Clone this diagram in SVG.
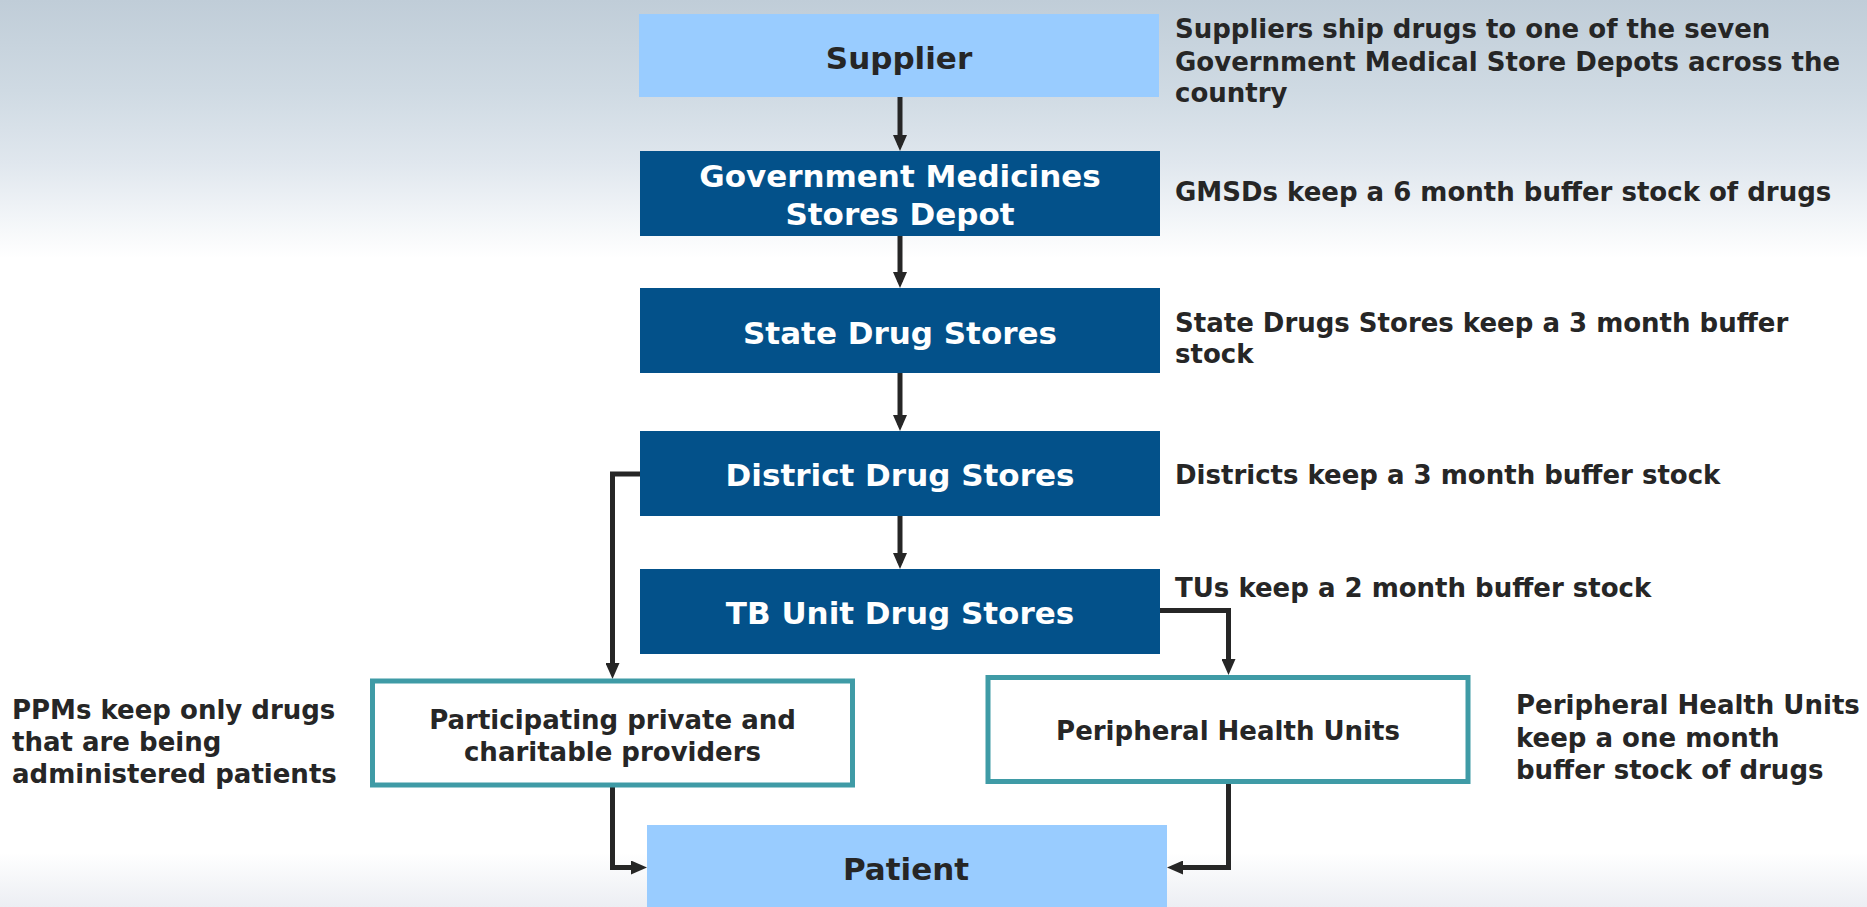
<svg xmlns="http://www.w3.org/2000/svg" width="1867" height="907" viewBox="0 0 1867 907">
  <defs>
    <linearGradient id="bg" x1="0" y1="0" x2="0" y2="1">
      <stop offset="0" stop-color="#c0cdd8"/>
      <stop offset="0.1" stop-color="#cfdae3"/>
      <stop offset="0.18" stop-color="#e0e7ee"/>
      <stop offset="0.24" stop-color="#f2f5f8"/>
      <stop offset="0.285" stop-color="#ffffff"/>
      <stop offset="0.94" stop-color="#ffffff"/>
      <stop offset="1" stop-color="#eceef3"/>
    </linearGradient>
    <marker id="arrow" viewBox="0 0 16 14" refX="10" refY="7" markerWidth="16" markerHeight="14" markerUnits="userSpaceOnUse" orient="auto">
      <path d="M0,0 L16,7 L0,14 z" fill="#262626"/>
    </marker>
    <style>
      .dark { fill: #03518a; }
      .light { fill: #99ccff; }
      .outline { fill: #ffffff; stroke: #3f9ba6; stroke-width: 5; }
      .lbl { font-family: "DejaVu Sans", Verdana, sans-serif; font-weight: bold; font-size: 31px; text-anchor: middle; }
      .w { fill: #ffffff; }
      .k { fill: #262626; }
      .sm { font-family: "DejaVu Sans", Verdana, sans-serif; font-weight: bold; font-size: 26px; fill: #262626; }
      .mid { text-anchor: middle; }
      .conn { fill: none; stroke: #262626; stroke-width: 5; marker-end: url(#arrow); }
    </style>
  </defs>

  <rect x="0" y="0" width="1867" height="907" fill="url(#bg)"/>

  <g id="connectors">
    <path class="conn" d="M900,97 V145"/>
    <path class="conn" d="M900,236 V282"/>
    <path class="conn" d="M900,373 V425"/>
    <path class="conn" d="M900,516 V563"/>
    <path class="conn" d="M640,474 H612.5 V673"/>
    <path class="conn" d="M1160,610.5 H1228.5 V669"/>
    <path class="conn" d="M612.5,787 V867.5 H641"/>
    <path class="conn" d="M1228.5,783 V867.5 H1173"/>
  </g>

  <g id="supplier">
    <rect class="light" x="639" y="14" width="520" height="83"/>
    <text class="lbl k" x="899" y="69">Supplier</text>
  </g>
  <g id="gmsd">
    <rect class="dark" x="640" y="151" width="520" height="85"/>
    <text class="lbl w" x="900" y="187">Government Medicines</text>
    <text class="lbl w" x="900" y="225">Stores Depot</text>
  </g>
  <g id="state">
    <rect class="dark" x="640" y="288" width="520" height="85"/>
    <text class="lbl w" x="900" y="344">State Drug Stores</text>
  </g>
  <g id="district">
    <rect class="dark" x="640" y="431" width="520" height="85"/>
    <text class="lbl w" x="900" y="486">District Drug Stores</text>
  </g>
  <g id="tbunit">
    <rect class="dark" x="640" y="569" width="520" height="85"/>
    <text class="lbl w" x="900" y="624">TB Unit Drug Stores</text>
  </g>
  <g id="ppm">
    <rect class="outline" x="372.5" y="681" width="480" height="104"/>
    <text class="sm mid" x="612.5" y="729">Participating private and</text>
    <text class="sm mid" x="612.5" y="761">charitable providers</text>
  </g>
  <g id="phu">
    <rect class="outline" x="988" y="677.5" width="480" height="104"/>
    <text class="sm mid" x="1228" y="740">Peripheral Health Units</text>
  </g>
  <g id="patient">
    <rect class="light" x="647" y="825" width="520" height="90"/>
    <text class="lbl k" x="906" y="880">Patient</text>
  </g>

  <g id="notes">
    <text class="sm" x="1175" y="38">Suppliers ship drugs to one of the seven</text>
    <text class="sm" x="1175" y="71">Government Medical Store Depots across the</text>
    <text class="sm" x="1175" y="102">country</text>
    <text class="sm" x="1175" y="201">GMSDs keep a 6 month buffer stock of drugs</text>
    <text class="sm" x="1175" y="332">State Drugs Stores keep a 3 month buffer</text>
    <text class="sm" x="1175" y="363">stock</text>
    <text class="sm" x="1175" y="484">Districts keep a 3 month buffer stock</text>
    <text class="sm" x="1175" y="597">TUs keep a 2 month buffer stock</text>
    <text class="sm" x="1516" y="714">Peripheral Health Units</text>
    <text class="sm" x="1516" y="747">keep a one month</text>
    <text class="sm" x="1516" y="779">buffer stock of drugs</text>
    <text class="sm" x="12" y="719">PPMs keep only drugs</text>
    <text class="sm" x="12" y="751">that are being</text>
    <text class="sm" x="12" y="783">administered patients</text>
  </g>
</svg>
